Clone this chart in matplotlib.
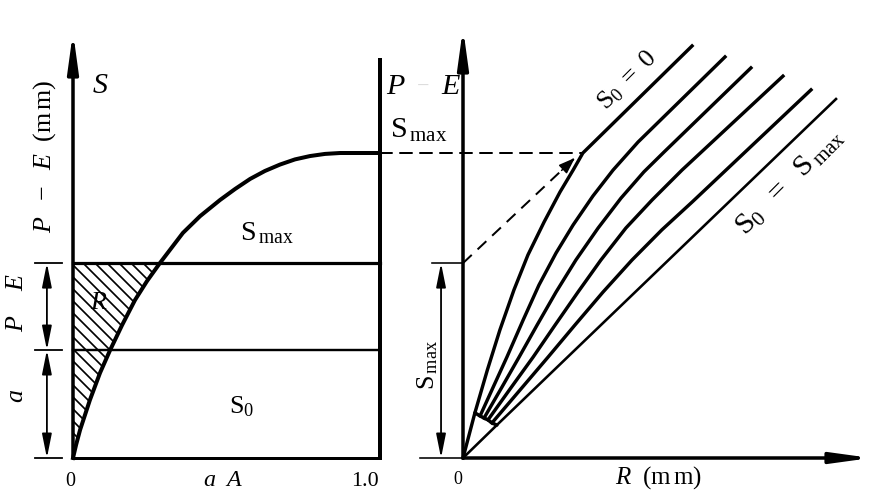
import matplotlib.pyplot as plt
from matplotlib.patches import ConnectionPatch
import numpy as np

plt.rcParams['font.family'] = ['Liberation Serif', 'DejaVu Serif']
plt.rcParams['mathtext.fontset'] = 'custom'
plt.rcParams['mathtext.rm'] = 'Liberation Serif'
plt.rcParams['mathtext.it'] = 'Liberation Serif:italic'
plt.rcParams['hatch.linewidth'] = 1.7

W, H = 875, 493

# left panel: area fraction a/A against storage S (in units of Smax)
area_frac = [0.0, 0.010, 0.023, 0.055, 0.088, 0.121, 0.160, 0.202, 0.241, 0.283,
             0.358, 0.414, 0.479, 0.528, 0.577, 0.625, 0.674, 0.723, 0.772, 0.821,
             0.870, 1.0]
storage = [0.0, 0.043, 0.092, 0.190, 0.279, 0.354, 0.436, 0.518, 0.580, 0.639,
           0.738, 0.793, 0.846, 0.882, 0.915, 0.941, 0.962, 0.979, 0.990, 0.997,
           1.0, 1.0]
s_max = 1.0
s0_level = 0.354
pe_level = 0.639

# right panel: runoff R against P-E for several initial storages S0
r_curves = [
    [0.0, 0.039, 0.080, 0.121, 0.167, 0.213, 0.266, 0.318, 0.361, 0.393, 0.751],
    [0.056, 0.102, 0.144, 0.197, 0.249, 0.305, 0.361, 0.426, 0.492, 0.574, 0.859],
    [0.069, 0.128, 0.184, 0.243, 0.305, 0.370, 0.443, 0.518, 0.593, 0.659, 0.944],
    [0.082, 0.157, 0.230, 0.302, 0.377, 0.452, 0.534, 0.620, 0.718, 1.049],
    [0.095, 0.187, 0.279, 0.367, 0.459, 0.554, 0.652, 0.751, 1.141],
    [0.0, 0.111, 1.223],
]
e_curves = [
    [0.0, 0.148, 0.289, 0.420, 0.551, 0.666, 0.774, 0.872, 0.944, 1.000, 1.351],
    [0.138, 0.239, 0.331, 0.452, 0.567, 0.672, 0.764, 0.859, 0.944, 1.036, 1.315],
    [0.131, 0.233, 0.331, 0.436, 0.544, 0.649, 0.754, 0.852, 0.938, 1.003, 1.279],
    [0.125, 0.230, 0.331, 0.436, 0.544, 0.649, 0.754, 0.846, 0.944, 1.252],
    [0.115, 0.223, 0.331, 0.436, 0.544, 0.649, 0.748, 0.839, 1.207],
    [0.0, 0.108, 1.177],
]
bend_idx = 9          # where S0=0 curve reaches Smax
arrow_tip = (0.367, 0.984)


def fp(x, y):
    # pixel position -> figure fraction
    return x / W, 1 - y / H


fig = plt.figure(figsize=(W / 72, H / 72), dpi=72)

ax1 = fig.add_axes([73 / W, 35 / H, 307 / W, 426 / H])
ax1.set_xlim(0, 1)
ax1.set_ylim(0, 426 / 305)
ax1.axis('off')

ax2 = fig.add_axes([463 / W, 35 / H, 408 / W, 430 / H])
ax2.set_xlim(0, 408 / 305)
ax2.set_ylim(0, 430 / 305)
ax2.axis('off')

k = 'black'
axis_arrow = dict(arrowstyle='-|>,head_length=1.6,head_width=0.22', lw=3.5,
                  color=k, shrinkA=0, shrinkB=0, mutation_scale=20)
dim_arrow = dict(arrowstyle='<|-|>,head_length=1.0,head_width=0.2', lw=1.8,
                 color=k, shrinkA=0, shrinkB=0, mutation_scale=20)

# ---- left panel ----
ax1.annotate('', xy=(0, ax1.get_ylim()[1]), xytext=(0, 0), arrowprops=axis_arrow,
             annotation_clip=False)
ax1.plot([1, 1], [0, 1.311], color=k, lw=4, clip_on=False, solid_capstyle='butt')
ax1.plot([0, 1], [0, 0], color=k, lw=3, clip_on=False)
ax1.plot([0, 1], [pe_level, pe_level], color=k, lw=3.2, clip_on=False)
ax1.plot([0, 1], [s0_level, s0_level], color=k, lw=2.4, clip_on=False)
ax1.plot(area_frac, storage, color=k, lw=4, clip_on=False, solid_joinstyle='round')

a_arr = np.array(area_frac)
s_arr = np.array(storage)
m = s_arr <= pe_level
ax1.fill_betweenx(s_arr[m], 0, a_arr[m], facecolor='none', edgecolor=k,
                  hatch='\\\\', lw=0)

for lev in [0, s0_level, pe_level]:
    ax1.plot([-0.124, -0.036], [lev, lev], color=k, lw=1.8, clip_on=False)
ax1.annotate('', xy=(-0.085, s0_level), xytext=(-0.085, 0), arrowprops=dim_arrow,
             annotation_clip=False)
ax1.annotate('', xy=(-0.085, pe_level), xytext=(-0.085, s0_level), arrowprops=dim_arrow,
             annotation_clip=False)

# ---- right panel ----
ax2.annotate('', xy=(0, ax2.get_ylim()[1]), xytext=(0, 0), arrowprops=axis_arrow,
             annotation_clip=False)
ax2.annotate('', xy=(ax2.get_xlim()[1], 0), xytext=(0, 0), arrowprops=axis_arrow,
             annotation_clip=False)
for i, (rr, ee) in enumerate(zip(r_curves, e_curves)):
    ax2.plot(rr, ee, color=k, lw=2.6 if i == 5 else 3.4, clip_on=False,
             solid_joinstyle='round')

# arc joining the curves near the origin
arc_r = [r_curves[0][1]] + [c[0] for c in r_curves[1:5]] + [r_curves[5][1]]
arc_e = [e_curves[0][1]] + [c[0] for c in e_curves[1:5]] + [e_curves[5][1]]
ax2.plot(arc_r, arc_e, color=k, lw=3.5, solid_capstyle='round')

ax2.plot([-0.102, 0], [pe_level, pe_level], color=k, lw=1.6, clip_on=False)
ax2.plot([-0.141, 0], [0, 0], color=k, lw=1.6, clip_on=False)
ax2.annotate('', xy=(-0.072, pe_level), xytext=(-0.072, 0), arrowprops=dim_arrow,
             annotation_clip=False)

# dashed guide lines
bend = (r_curves[0][bend_idx], e_curves[0][bend_idx])
con = ConnectionPatch(xyA=(1, s_max), coordsA=ax1.transData, xyB=bend,
                      coordsB=ax2.transData, color=k, lw=2, linestyle=(0, (6, 4)))
fig.add_artist(con)
ax2.plot([0, arrow_tip[0]], [pe_level, arrow_tip[1]], color=k, lw=2,
         linestyle=(0, (6, 4)))
d = np.array(arrow_tip) - np.array([0, pe_level])
back = np.array(arrow_tip) - 0.06 * d / np.hypot(*d)
ax2.annotate('', xy=arrow_tip, xytext=tuple(back),
             arrowprops=dict(arrowstyle='-|>,head_length=0.7,head_width=0.25',
                             color=k, lw=1.5, shrinkA=0, shrinkB=0, mutation_scale=20))

# ---- text ----
fig.text(*fp(100, 86), 'S', fontsize=30, style='italic', ha='center', va='center')
fig.text(*fp(395, 87), 'P', fontsize=30, style='italic', ha='center', va='center')
fig.text(*fp(423, 87), '\u2212', fontsize=22, color='#dddddd', ha='center', va='center')
fig.text(*fp(451, 87), 'E', fontsize=30, style='italic', ha='center', va='center')
fig.text(*fp(390, 138), r'$\mathrm{S}_{\,\mathrm{max}}$', fontsize=30, ha='left', va='baseline')
fig.text(*fp(240, 240), r'$\mathrm{S}_{\,\mathrm{max}}$', fontsize=28, ha='left', va='baseline')
fig.text(*fp(98, 303), 'R', fontsize=26, style='italic', ha='center', va='center')
fig.text(*fp(229, 413), r'$\mathrm{S}_{0}$', fontsize=26, ha='left', va='baseline')

fig.text(*fp(45, 156), r'$P\ \ -\ \ E\ \ (\mathrm{m\,m})$', fontsize=26, rotation=90,
         ha='center', va='center')
fig.text(*fp(17, 303), r'$P\ \ \ \ E$', fontsize=26, rotation=90, ha='center', va='center')
fig.text(*fp(16, 395), 'a', fontsize=26, style='italic', rotation=90,
         ha='center', va='center')
fig.text(*fp(428, 365), r'$\mathrm{S}_{\,\mathrm{max}}$', fontsize=26, rotation=90,
         ha='center', va='center')

fig.text(*fp(70, 482), '0', fontsize=20, ha='center', va='center')
fig.text(*fp(223, 481), r'$a\ \ A$', fontsize=24, ha='center', va='center')
fig.text(*fp(365, 481), '1.0', fontsize=22, ha='center', va='center')
fig.text(*fp(458, 479), '0', fontsize=18, ha='center', va='center')
fig.text(*fp(615, 478), r'$R\ \ (\mathrm{m\,m})$', fontsize=25, ha='left', va='center')

fig.text(*fp(627, 80), r'$\mathrm{S}_{0}\ =\ 0$', fontsize=26, rotation=45,
         ha='center', va='center')
fig.text(*fp(790, 182), r'$\mathrm{S}_{0}\ \ =\ \ \mathrm{S}_{\,\mathrm{max}}$', fontsize=30,
         rotation=45, ha='center', va='center')

fig.savefig('out.png', dpi=72)
